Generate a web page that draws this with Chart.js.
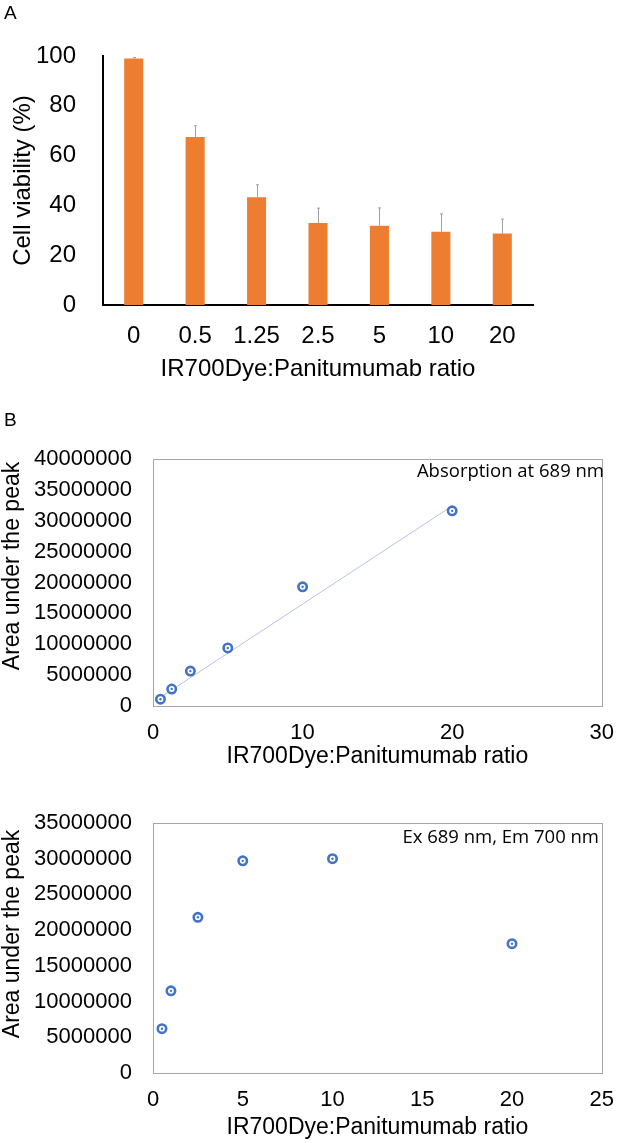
<!DOCTYPE html>
<html>
<head>
<meta charset="utf-8">
<script src="https://cdn.jsdelivr.net/npm/chart.js@4.4.1/dist/chart.umd.min.js"></script>
<style>
  html, body { margin:0; padding:0; background:#fff; }
  body { width:628px; height:1143px; position:relative; overflow:hidden; font-family:"Liberation Sans", Arial, sans-serif; }
  canvas { position:absolute; left:0; }
  .lbl { position:absolute; font:19px "Liberation Sans", Arial, sans-serif; line-height:19px; color:#000; z-index:5; }
</style>
</head>
<body>
<div class="lbl" style="left:4px; top:3px;">A</div>
<div class="lbl" style="left:4px; top:410px;">B</div>
<canvas id="cA" width="628" height="390" style="top:0px;"></canvas>
<canvas id="cB1" width="628" height="394" style="top:380px;"></canvas>
<canvas id="cB2" width="628" height="369" style="top:774px;"></canvas>
<script>
// ---------- Panel A data ----------
const ratioCategories = ["0", "0.5", "1.25", "2.5", "5", "10", "20"];
const viability = [99, 67.5, 43.3, 32.9, 31.8, 29.4, 28.7];
const viabilityErr = [0.4, 4.5, 5.0, 6.0, 7.2, 7.2, 5.8];
const yTicksA = [0, 20, 40, 60, 80, 100];

// ---------- Panel B (absorption) data ----------
const absRatio = [0.5, 1.25, 2.5, 5, 10, 20];
const absArea = [1100000, 2750000, 5650000, 9400000, 19300000, 31600000];
const absTrendX = [0.5, 20];
const absTrendY = [1400000, 32400000];

// ---------- Panel B (fluorescence) data ----------
const fluRatio = [0.5, 1, 2.5, 5, 10, 20];
const fluArea = [6200000, 11500000, 21800000, 29700000, 30000000, 18100000];

const xTitle = "IR700Dye:Panitumumab ratio";
const yTitleA = "Cell viability (%)";
const yTitleB = "Area under the peak";
const noteB1 = "Absorption at 689 nm";
const noteB2 = "Ex 689 nm, Em 700 nm";

const ARIAL = "'Liberation Sans', Arial, sans-serif";
const ORANGE = "#ED7D31";
const BLUE = "#4472C4";

// Error bar plugin (panel A)
const errorBars = {
  id: 'errorBars',
  afterDatasetsDraw(chart) {
    const ctx = chart.ctx;
    const meta = chart.getDatasetMeta(0);
    const ys = chart.scales.y;
    ctx.save();
    ctx.strokeStyle = '#a0a0a0';
    ctx.lineWidth = 1;
    meta.data.forEach((bar, i) => {
      const x = Math.round(bar.x) + 0.5;
      const yTop = ys.getPixelForValue(viability[i] + viabilityErr[i]);
      ctx.beginPath();
      ctx.moveTo(x, bar.y);
      ctx.lineTo(x, yTop);
      ctx.moveTo(x - 1.5, yTop);
      ctx.lineTo(x + 1.5, yTop);
      ctx.stroke();
    });
    ctx.restore();
  }
};

// Box + notes + y title plugin (panel B)
const boxPlugin = {
  id: 'boxPlugin',
  afterDraw(chart, args, opts) {
    const ctx = chart.ctx;
    const a = chart.chartArea;
    ctx.save();
    ctx.strokeStyle = '#a6a6a6';
    ctx.lineWidth = 1;
    ctx.strokeRect(Math.round(a.left) + 0.5, Math.round(a.top) + 0.5,
                   Math.round(a.right - a.left), Math.round(a.bottom - a.top));
    // note
    ctx.fillStyle = '#000';
    ctx.font = "18.5px 'Open Sans', sans-serif";
    ctx.textAlign = 'right';
    ctx.textBaseline = 'middle';
    ctx.fillText(opts.note, opts.noteX, opts.noteY);
    // y title
    ctx.translate(opts.titleX, opts.titleY);
    ctx.rotate(-Math.PI / 2);
    ctx.textAlign = 'center';
    ctx.font = "23px " + ARIAL;
    ctx.fillText(opts.title, 0, 0);
    ctx.restore();
  }
};

Chart.defaults.font.family = ARIAL;
Chart.defaults.color = '#000';

// ---------- Panel A ----------
new Chart(document.getElementById('cA'), {
  type: 'bar',
  data: {
    labels: ratioCategories,
    datasets: [{
      data: viability,
      backgroundColor: ORANGE,
      categoryPercentage: 1,
      barPercentage: 0.31
    }]
  },
  options: {
    responsive: false,
    animation: false,
    devicePixelRatio: 1,
    layout: { padding: { left: 0, right: 95, top: 56, bottom: 0 } },
    plugins: { legend: { display: false }, tooltip: { enabled: false } },
    scales: {
      x: {
        grid: { display: false, drawTicks: false },
        border: { display: true, color: '#000', width: 2 },
        ticks: { font: { size: 24 }, padding: 17, color: '#000' },
        title: { display: true, text: xTitle, font: { size: 24 }, color: '#000', padding: { top: 0, bottom: 6 } },
        afterFit(s) { s.height = 85; }
      },
      y: {
        min: 0, max: 100,
        afterBuildTicks(s) { s.ticks = yTicksA.map(v => ({ value: v })); },
        grid: { display: false, drawTicks: false },
        border: { display: true, color: '#000', width: 2 },
        ticks: { font: { size: 24 }, padding: 27, color: '#000' },
        title: { display: true, text: yTitleA, font: { size: 24 }, color: '#000', padding: { top: 9, bottom: 0 } },
        afterFit(s) { s.width = 103; }
      }
    }
  },
  plugins: [errorBars]
});

function scatterConfig(xs, ys, trend, xMax, xStep, yMax, padTop, padRight, xAxisH, tickPad, titlePad, boxOpts) {
  const pts = xs.map((x, i) => ({ x: x, y: ys[i] }));
  const datasets = [
    {
      data: pts, pointRadius: 4.2, pointBorderWidth: 2.6,
      pointBorderColor: BLUE, pointBackgroundColor: '#fff', order: 2
    },
    {
      data: pts, pointRadius: 1.2, pointBorderWidth: 0,
      pointBackgroundColor: BLUE, order: 1
    }
  ];
  if (trend) {
    datasets.push({
      data: trend.x.map((x, i) => ({ x: x, y: trend.y[i] })),
      showLine: true, borderColor: '#b7c3e2', borderWidth: 1,
      pointRadius: 0, order: 3
    });
  }
  return {
    type: 'scatter',
    data: { datasets },
    options: {
      responsive: false,
      animation: false,
      devicePixelRatio: 1,
      layout: { padding: { left: 0, right: padRight, top: padTop, bottom: 0 } },
      plugins: { legend: { display: false }, tooltip: { enabled: false }, boxPlugin: boxOpts },
      scales: {
        x: {
          type: 'linear', min: 0, max: xMax,
          ticks: { stepSize: xStep, font: { size: 22 }, padding: tickPad, color: '#000' },
          grid: { display: false, drawTicks: false },
          border: { display: false },
          title: { display: true, text: xTitle, font: { size: 23 }, color: '#000', padding: { top: 0, bottom: titlePad } },
          afterFit(s) { s.height = xAxisH; }
        },
        y: {
          type: 'linear', min: 0, max: yMax,
          ticks: { stepSize: 5000000, font: { size: 22 }, padding: 21, color: '#000',
                   callback: v => String(v) },
          grid: { display: false, drawTicks: false },
          border: { display: false },
          afterFit(s) { s.width = 153; }
        }
      }
    },
    plugins: [boxPlugin]
  };
}

new Chart(document.getElementById('cB1'),
  scatterConfig(absRatio, absArea, { x: absTrendX, y: absTrendY }, 30, 10, 40000000,
    79, 16, 68, 14, 4,
    { note: noteB1, noteX: 604, noteY: 92, title: yTitleB, titleX: 13, titleY: 186 }));

new Chart(document.getElementById('cB2'),
  scatterConfig(fluRatio, fluArea, null, 25, 5, 35000000,
    49, 15, 70, 14, 2,
    { note: noteB2, noteX: 599, noteY: 64, title: yTitleB, titleX: 13, titleY: 160 }));
</script>
</body>
</html>
